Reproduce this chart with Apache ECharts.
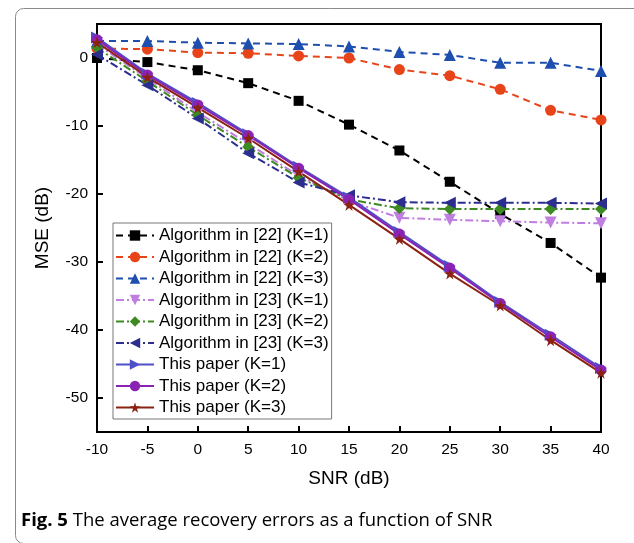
<!DOCTYPE html>
<html>
<head>
<meta charset="utf-8">
<script src="https://cdn.jsdelivr.net/npm/echarts@6/dist/echarts.min.js"></script>
<style>
  html, body { margin: 0; padding: 0; background: #fff; }
  #chart { width: 634px; height: 543px; }
</style>
</head>
<body>
<div id="chart"></div>
<script>
(function () {
    'use strict';

    var snr = [-10, -5, 0, 5, 10, 15, 20, 25, 30, 35, 40];
    var yTicks = [-50, -40, -30, -20, -10, 0];

    // Algorithm in [22]
    var alg22k1 = [0.0, -0.6, -1.8, -3.7, -6.3, -9.8, -13.6, -18.2, -22.9, -27.2, -32.3];
    var alg22k2 = [1.4, 1.3, 0.8, 0.7, 0.3, 0.0, -1.7, -2.6, -4.6, -7.7, -9.1];
    var alg22k3 = [2.5, 2.5, 2.25, 2.15, 2.05, 1.7, 0.9, 0.45, -0.7, -0.7, -1.9];
    // Algorithm in [23]
    var alg23k1 = [2.0, -3.0, -8.0, -12.6, -17.3, -21.0, -23.5, -23.8, -24.0, -24.2, -24.3];
    var alg23k2 = [1.5, -3.4, -8.4, -13.1, -17.6, -20.8, -22.1, -22.2, -22.2, -22.2, -22.2];
    var alg23k3 = [0.5, -4.0, -8.9, -14.0, -18.3, -20.2, -21.2, -21.3, -21.3, -21.3, -21.4];
    // This paper
    var tpk1 = [3.0, -2.3, -6.6, -11.2, -16.0, -20.5, -25.6, -30.6, -35.9, -40.7, -45.6];
    var tpk2 = [2.7, -2.5, -6.9, -11.4, -16.2, -20.8, -25.9, -30.9, -36.1, -41.0, -45.9];
    var tpk3 = [2.3, -2.8, -7.3, -11.8, -16.7, -21.6, -26.6, -31.7, -36.4, -41.5, -46.3];

    var star = 'path://M50,0 L61,35 L98,35 L68,57 L79,91 L50,70 L21,91 L32,57 L2,35 L39,35 Z';
    var font = '"Liberation Sans", Arial, sans-serif';
    var capFont = '"Open Sans", "Noto Sans", sans-serif';

    function pairs(vals) {
        return snr.map(function (x, i) { return [x, vals[i]]; });
    }

    function line(name, vals, color, dash, symbol, rotate, size) {
        return {
            name: name,
            type: 'line',
            data: pairs(vals),
            symbol: symbol,
            symbolSize: size || 11,
            symbolRotate: rotate || 0,
            color: color,
            lineStyle: { color: color, width: 2, type: dash },
            itemStyle: { color: color },
            animation: false,
            z: 3
        };
    }

    var dashed = [7, 5];
    var dashDot = [8, 3, 2, 3];

    var series = [
        line('Algorithm in [22] (K=1)', alg22k1, '#000000', dashed, 'rect', 0, 10),
        line('Algorithm in [22] (K=2)', alg22k2, '#e8441a', dashed, 'circle', 0, 11),
        line('Algorithm in [22] (K=3)', alg22k3, '#1f4fae', dashed, 'triangle', 0, 12),
        line('Algorithm in [23] (K=1)', alg23k1, '#c07ee0', dashDot, 'triangle', 180, 12),
        line('Algorithm in [23] (K=2)', alg23k2, '#3e8a22', dashDot, 'diamond', 0, 12),
        line('Algorithm in [23] (K=3)', alg23k3, '#2b2e8e', dashDot, 'triangle', 90, 12),
        line('This paper (K=1)', tpk1, '#4f4fc8', 'solid', 'triangle', -90, 12),
        line('This paper (K=2)', tpk2, '#8a22b4', 'solid', 'circle', 0, 11),
        line('This paper (K=3)', tpk3, '#8c2212', 'solid', star, 0, 12)
    ];

    var option = {
        backgroundColor: '#fff',
        textStyle: { fontFamily: font },
        grid: { left: 97, right: 33, top: 24, bottom: 111, show: true, borderColor: '#000', borderWidth: 2 },
        legend: {
            orient: 'vertical',
            left: 113,
            top: 223,
            padding: [4, 3, 3, 2],
            itemWidth: 38,
            itemHeight: 13,
            itemGap: 4.5,
            backgroundColor: '#fff',
            borderColor: '#777',
            borderWidth: 1,
            textStyle: { fontSize: 17, color: '#000', fontFamily: font },
            data: series.map(function (s) { return s.name; })
        },
        xAxis: {
            type: 'value',
            min: -10,
            max: 40,
            interval: 5,
            name: 'SNR (dB)',
            nameLocation: 'middle',
            nameGap: 37,
            nameTextStyle: { fontSize: 19, color: '#000', fontFamily: font },
            axisLine: { onZero: false, lineStyle: { color: '#000', width: 2 } },
            axisTick: { inside: true, length: 6, lineStyle: { color: '#000', width: 2 } },
            axisLabel: { fontSize: 15.5, color: '#000', margin: 10, fontFamily: font },
            splitLine: { show: false }
        },
        yAxis: {
            type: 'value',
            min: -55,
            max: 5,
            name: 'MSE (dB)',
            nameLocation: 'middle',
            nameGap: 45,
            nameTextStyle: { fontSize: 19, color: '#000', fontFamily: font },
            axisLine: { onZero: false, lineStyle: { color: '#000', width: 2 } },
            axisTick: { inside: true, length: 6, lineStyle: { color: '#000', width: 2 }, customValues: yTicks },
            axisLabel: { fontSize: 15.5, color: '#000', margin: 9, fontFamily: font, customValues: yTicks },
            splitLine: { show: false }
        },
        graphic: [
            {
                type: 'rect',
                left: 13,
                top: 6,
                shape: { width: 640, height: 535, r: 8 },
                style: { fill: null, stroke: '#8a8a8a', lineWidth: 1 },
                z: -1,
                silent: true
            },
            {
                type: 'text',
                left: 21,
                top: 511,
                style: {
                    rich: {
                        b: { fontWeight: 'bold', fontSize: 18.5, fontFamily: capFont, fill: '#000' },
                        n: { fontSize: 18.5, fontFamily: capFont, fill: '#000' }
                    },
                    text: '{b|Fig. 5}{n| The average recovery errors as a function of SNR}'
                }
            }
        ],
        series: series
    };

    var chart = echarts.init(document.getElementById('chart'));
    chart.setOption(option);
})();
</script>
</body>
</html>
